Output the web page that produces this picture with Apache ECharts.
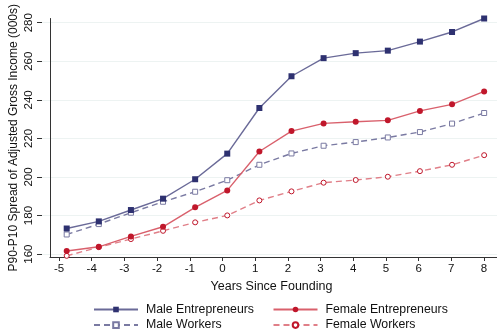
<!DOCTYPE html>
<html>
<head>
<meta charset="utf-8">
<script src="https://cdn.jsdelivr.net/npm/echarts@6/dist/echarts.min.js"></script>
<style>
  html, body { margin: 0; padding: 0; background: #fff; }
  #chart { width: 497px; height: 330px; }
</style>
</head>
<body>
<div id="chart"></div>
<script>
// Years relative to firm founding
const years = [-5, -4, -3, -2, -1, 0, 1, 2, 3, 4, 5, 6, 7, 8];

// P90-P10 spread of adjusted gross income, in thousands
const maleEntrepreneurs   = [173.2, 176.9, 182.8, 188.7, 198.8, 212.1, 235.8, 252.3, 261.7, 264.3, 265.6, 270.3, 275.3, 282.3];
const femaleEntrepreneurs = [161.5, 163.7, 169.1, 174.1, 184.2, 193.0, 213.2, 223.8, 227.8, 228.7, 229.4, 234.3, 237.7, 244.4];
const maleWorkers         = [170.1, 175.5, 181.4, 187.1, 192.3, 198.3, 206.3, 212.2, 216.2, 218.1, 220.5, 223.3, 227.7, 233.2];
const femaleWorkers       = [159.0, 163.5, 167.7, 172.0, 176.4, 180.0, 187.8, 192.5, 197.0, 198.4, 200.1, 203.0, 206.3, 211.3];

const yTickMin = 160, yTickMax = 280, yTickStep = 20;

const FONT = 'Liberation Sans, Arial, sans-serif';
const NAVY = '#2e3170', NAVY_LINE = '#6a6a98', NAVY_DASH = '#7a7aa2';
const RED = '#c0172b', RED_LINE = '#d9606c', RED_DASH = '#e07f88';

function pairs(vals) { return years.map((x, i) => [x, vals[i]]); }

const legendCommon = {
  orient: 'vertical', top: 303.5, height: 40, padding: 0,
  itemWidth: 44, itemHeight: 7, itemGap: 3.6,
  textStyle: { color: '#111', fontSize: 12.3, fontFamily: FONT, padding: [0, 0, 0, 3] }
};

const chart = echarts.init(document.getElementById('chart'), null, { renderer: 'canvas' });

chart.setOption({
  animation: false,
  backgroundColor: '#fff',
  textStyle: { fontFamily: FONT },
  grid: [
    // plotting frame (axis lines run a little past the outer ticks)
    { left: 42, right: 0, top: 18.5, bottom: 73 },
    // value-axis ticks, labels and gridlines
    { left: 42, right: 0, top: 22.7, bottom: 75.9 },
    // year ticks and labels
    { left: 59, right: 13, top: 18.5, bottom: 73 }
  ],
  xAxis: [
    {
      gridIndex: 0, type: 'value', min: -5.52, max: 8.4,
      axisLine: { show: true, onZero: false, lineStyle: { color: '#333', width: 1 } },
      axisTick: { show: false }, axisLabel: { show: false }, splitLine: { show: false }
    },
    { gridIndex: 1, type: 'value', show: false, min: 0, max: 1 },
    {
      gridIndex: 2, type: 'value', min: years[0], max: years[years.length - 1], interval: 1,
      axisLine: { show: false, onZero: false },
      axisTick: { show: true, length: 4, lineStyle: { color: '#333' } },
      axisLabel: { color: '#111', fontSize: 11.5, fontFamily: FONT, margin: 6 },
      splitLine: { show: false },
      name: 'Years Since Founding', nameLocation: 'middle', nameGap: 23,
      nameTextStyle: { color: '#111', fontSize: 12.5, fontFamily: FONT }
    }
  ],
  yAxis: [
    {
      gridIndex: 0, type: 'value', min: 158.4, max: 282.3,
      axisLine: { show: true, onZero: false, lineStyle: { color: '#333', width: 1 } },
      axisTick: { show: false }, axisLabel: { show: false }, splitLine: { show: false },
      name: 'P90-P10 Spread of Adjusted Gross Income (000s)', nameLocation: 'middle', nameGap: 30,
      nameTextStyle: { color: '#111', fontSize: 12, fontFamily: FONT }
    },
    {
      gridIndex: 1, type: 'value', min: yTickMin, max: yTickMax, interval: yTickStep,
      axisLine: { show: false, onZero: false },
      axisTick: { show: true, length: 5, lineStyle: { color: '#333' } },
      axisLabel: { color: '#111', fontSize: 11.5, fontFamily: FONT, rotate: 90, margin: 7 },
      splitLine: { show: true, lineStyle: { color: '#edf3f2', width: 1 } }
    },
    { gridIndex: 2, type: 'value', show: false, min: 0, max: 1 }
  ],
  legend: [
    Object.assign({ left: 93, data: ['Male Entrepreneurs', 'Male Workers'] }, legendCommon),
    Object.assign({ left: 272.5, data: ['Female Entrepreneurs', 'Female Workers'] }, legendCommon)
  ],
  series: [
    {
      name: 'Male Entrepreneurs', type: 'line', xAxisIndex: 0, yAxisIndex: 0,
      data: pairs(maleEntrepreneurs), clip: false, z: 4,
      symbol: 'rect', symbolSize: 6,
      lineStyle: { color: NAVY_LINE, width: 1.4 },
      itemStyle: { color: NAVY, borderWidth: 0 }
    },
    {
      name: 'Female Entrepreneurs', type: 'line', xAxisIndex: 0, yAxisIndex: 0,
      data: pairs(femaleEntrepreneurs), clip: false, z: 4,
      symbol: 'circle', symbolSize: 6,
      lineStyle: { color: RED_LINE, width: 1.4 },
      itemStyle: { color: RED, borderWidth: 0 }
    },
    {
      name: 'Male Workers', type: 'line', xAxisIndex: 0, yAxisIndex: 0,
      data: pairs(maleWorkers), clip: false, z: 3,
      symbol: 'rect', symbolSize: 5,
      lineStyle: { color: NAVY_DASH, width: 1.4, type: [6, 4] },
      itemStyle: { color: '#fff', borderColor: NAVY_DASH, borderWidth: 1 }
    },
    {
      name: 'Female Workers', type: 'line', xAxisIndex: 0, yAxisIndex: 0,
      data: pairs(femaleWorkers), clip: false, z: 3,
      symbol: 'circle', symbolSize: 5,
      lineStyle: { color: RED_DASH, width: 1.4, type: [6, 4] },
      itemStyle: { color: '#fff', borderColor: RED, borderWidth: 1 }
    }
  ]
});
</script>
</body>
</html>
